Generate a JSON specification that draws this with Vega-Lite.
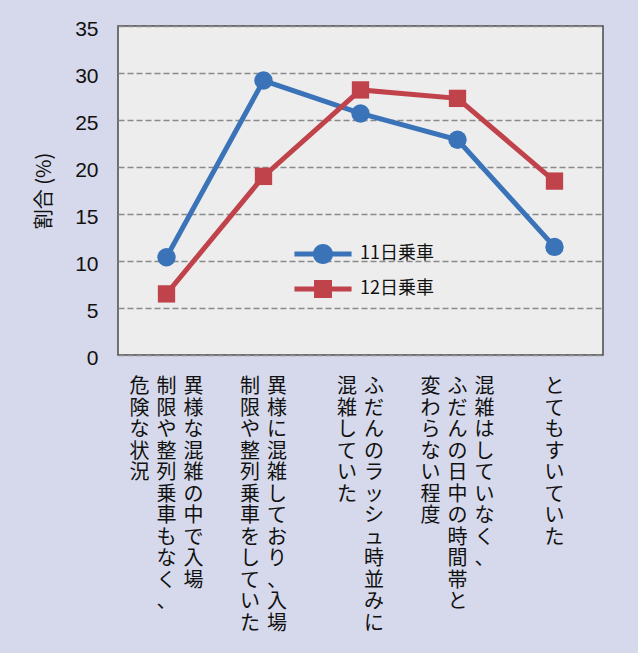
{
  "$schema": "https://vega.github.io/schema/vega-lite/v6.json",
  "width": 485,
  "height": 329,
  "autosize": {"type": "none"},
  "padding": {"left": 118, "top": 26, "right": 35, "bottom": 298},
  "background": "#d6d9eb",
  "config": {
    "view": {"stroke": "#4a4a4a", "strokeWidth": 1.5, "fill": "#eeeded"},
    "legend": {"symbolOpacity": 1}
  },
  "datasets": {
    "series": [
      {"cat": "異様な混雑の中で入場制限や整列乗車もなく、危険な状況", "series": "11日乗車", "value": 10.4},
      {"cat": "異様に混雑しており、入場制限や整列乗車をしていた", "series": "11日乗車", "value": 29.2},
      {"cat": "ふだんのラッシュ時並みに混雑していた", "series": "11日乗車", "value": 25.7},
      {"cat": "混雑はしていなく、ふだんの日中の時間帯と変わらない程度", "series": "11日乗車", "value": 22.9},
      {"cat": "とてもすいていた", "series": "11日乗車", "value": 11.5},
      {"cat": "異様な混雑の中で入場制限や整列乗車もなく、危険な状況", "series": "12日乗車", "value": 6.5},
      {"cat": "異様に混雑しており、入場制限や整列乗車をしていた", "series": "12日乗車", "value": 19.0},
      {"cat": "ふだんのラッシュ時並みに混雑していた", "series": "12日乗車", "value": 28.2},
      {"cat": "混雑はしていなく、ふだんの日中の時間帯と変わらない程度", "series": "12日乗車", "value": 27.3},
      {"cat": "とてもすいていた", "series": "12日乗車", "value": 18.5}
    ],
    "labels": [
      {"cat": "異様な混雑の中で入場制限や整列乗車もなく、危険な状況", "col": 1, "text": "異様な混雑の中で入場"},
      {"cat": "異様な混雑の中で入場制限や整列乗車もなく、危険な状況", "col": 2, "text": "制限や整列乗車もなく、"},
      {"cat": "異様な混雑の中で入場制限や整列乗車もなく、危険な状況", "col": 3, "text": "危険な状況"},
      {"cat": "異様に混雑しており、入場制限や整列乗車をしていた", "col": 1, "text": "異様に混雑しており、入場"},
      {"cat": "異様に混雑しており、入場制限や整列乗車をしていた", "col": 2, "text": "制限や整列乗車をしていた"},
      {"cat": "ふだんのラッシュ時並みに混雑していた", "col": 1, "text": "ふだんのラッシュ時並みに"},
      {"cat": "ふだんのラッシュ時並みに混雑していた", "col": 2, "text": "混雑していた"},
      {"cat": "混雑はしていなく、ふだんの日中の時間帯と変わらない程度", "col": 1, "text": "混雑はしていなく、"},
      {"cat": "混雑はしていなく、ふだんの日中の時間帯と変わらない程度", "col": 2, "text": "ふだんの日中の時間帯と"},
      {"cat": "混雑はしていなく、ふだんの日中の時間帯と変わらない程度", "col": 3, "text": "変わらない程度"},
      {"cat": "とてもすいていた", "col": 1, "text": "とてもすいていた"}
    ]
  },
  "encoding": {
    "x": {
      "field": "cat",
      "type": "nominal",
      "sort": null,
      "scale": {"type": "point", "padding": 0.5, "domain": [
        "異様な混雑の中で入場制限や整列乗車もなく、危険な状況",
        "異様に混雑しており、入場制限や整列乗車をしていた",
        "ふだんのラッシュ時並みに混雑していた",
        "混雑はしていなく、ふだんの日中の時間帯と変わらない程度",
        "とてもすいていた"
      ]},
      "axis": null
    }
  },
  "layer": [
    {
      "data": {"name": "series"},
      "mark": {"type": "point", "opacity": 0, "filled": true},
      "encoding": {
        "y": {
          "field": "value",
          "type": "quantitative",
          "scale": {"domain": [0, 35], "nice": false, "zero": true},
          "axis": {
            "title": "割合 (%)",
            "values": [0, 5, 10, 15, 20, 25, 30, 35],
            "grid": true,
            "gridDash": [6, 3],
            "gridColor": "#8a8a8a",
            "gridWidth": 1.5,
            "domain": false,
            "ticks": false,
            "labelFont": "Liberation Sans",
            "labelFontSize": 21,
            "labelColor": "#111111",
            "labelPadding": 20,
            "labelOffset": 3,
            "titleFont": "Noto Sans CJK JP",
            "titleFontSize": 20,
            "titleFontWeight": "normal",
            "titleColor": "#111111",
            "titlePadding": 20
          }
        },
        "color": {
          "field": "series",
          "type": "nominal",
          "scale": {"domain": ["11日乗車", "12日乗車"], "range": ["#3b73b9", "#c0434b"]},
          "legend": {
            "title": null,
            "orient": "none",
            "legendX": 181,
            "legendY": 204,
            "padding": 0,
            "symbolSize": 2304,
            "symbolStrokeWidth": 0,
            "labelFont": "Noto Sans CJK JP",
            "labelFontSize": 18,
            "labelColor": "#111111",
            "labelOffset": 13,
            "rowPadding": 0
          }
        },
        "shape": {
          "field": "series",
          "type": "nominal",
          "scale": {"domain": ["11日乗車", "12日乗車"], "range": [
            "M-1.19,-0.1H1.19V0.1H-1.19Z M0.42,0A0.42,0.42 0 1,1 -0.42,0A0.42,0.42 0 1,1 0.42,0Z",
            "M-1.19,-0.1H1.19V0.1H-1.19Z M-0.375,-0.375H0.375V0.375H-0.375Z"
          ]},
          "legend": {"title": null}
        }
      }
    },
    {
      "data": {"name": "series"},
      "transform": [{"filter": "datum.series === '11日乗車'"}],
      "mark": {"type": "line", "color": "#3b73b9", "strokeWidth": 5},
      "encoding": {"y": {"field": "value", "type": "quantitative"}}
    },
    {
      "data": {"name": "series"},
      "transform": [{"filter": "datum.series === '12日乗車'"}],
      "mark": {"type": "line", "color": "#c0434b", "strokeWidth": 5},
      "encoding": {"y": {"field": "value", "type": "quantitative"}}
    },
    {
      "data": {"name": "series"},
      "transform": [{"filter": "datum.series === '11日乗車'"}],
      "mark": {"type": "point", "shape": "circle", "filled": true, "opacity": 1, "size": 340, "color": "#3b73b9"},
      "encoding": {"y": {"field": "value", "type": "quantitative"}}
    },
    {
      "data": {"name": "series"},
      "transform": [{"filter": "datum.series === '12日乗車'"}],
      "mark": {"type": "point", "shape": "square", "filled": true, "opacity": 1, "size": 300, "color": "#c0434b"},
      "encoding": {"y": {"field": "value", "type": "quantitative"}}
    },
    {
      "data": {"name": "labels"},
      "transform": [{"joinaggregate": [{"op": "count", "as": "n"}], "groupby": ["cat"]}],
      "mark": {
        "type": "text",
        "font": "Noto Sans CJK JP",
        "fontSize": 20,
        "lineHeight": 21.5,
        "baseline": "top",
        "align": "center",
        "color": "#111111",
        "dy": 22,
        "dx": {"expr": "((datum.n + 1) / 2 - datum.col) * 27"},
        "text": {"expr": "split(datum.text, '')"}
      },
      "encoding": {"y": {"datum": 0, "type": "quantitative"}}
    }
  ]
}
